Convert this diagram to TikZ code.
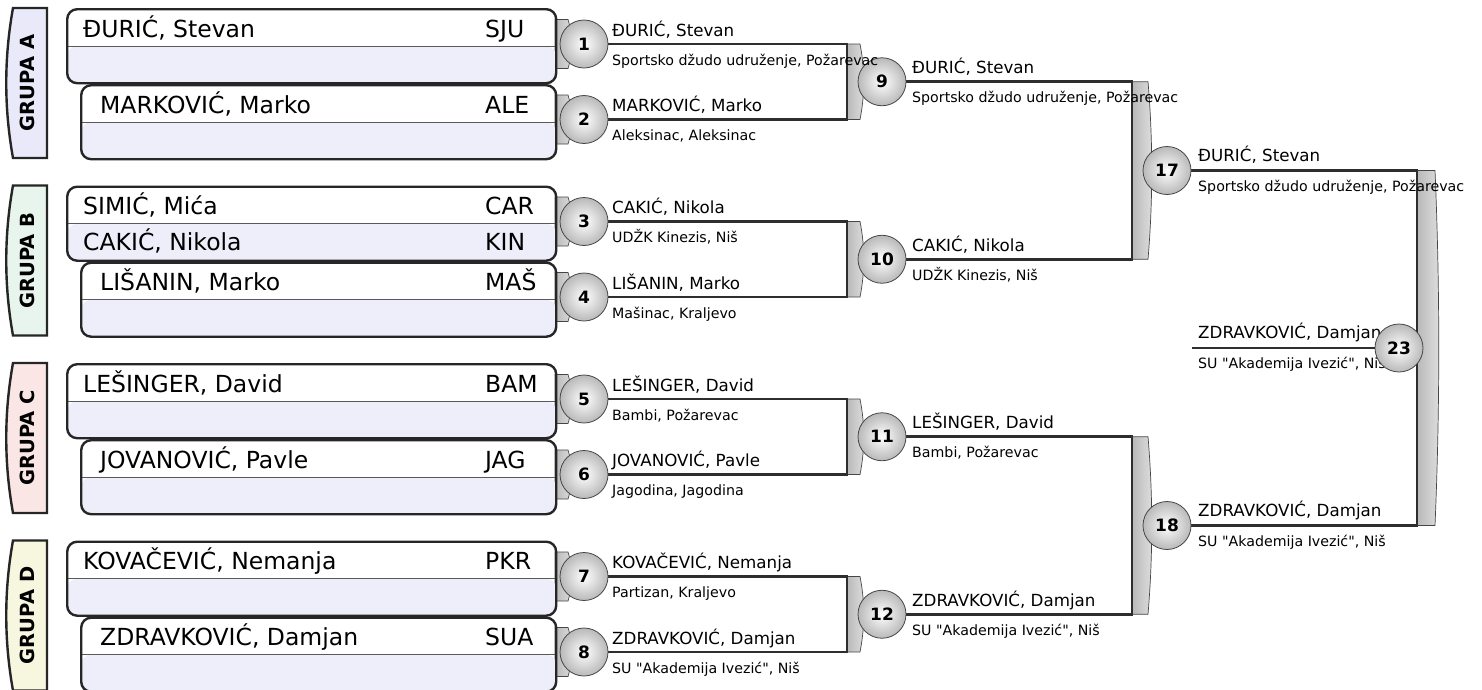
\documentclass[tikz,border=0pt]{standalone}
\usepackage{fontspec}
\setmainfont{DejaVu Sans}[Ligatures=TeXOff]
\definecolor{lav}{HTML}{EEEEFA}
\definecolor{grpA}{HTML}{E9E9F9}
\definecolor{grpB}{HTML}{E8F5EC}
\definecolor{grpC}{HTML}{FBE6E6}
\definecolor{grpD}{HTML}{F7F6DE}
\definecolor{lineC}{HTML}{2E2E2E}
\definecolor{boxline}{HTML}{262626}
\pgfdeclarelayer{bg}
\pgfdeclarelayer{lines}
\pgfdeclarelayer{top}
\pgfsetlayers{bg,lines,main,top}
\newcommand{\gblock}[4]{\path[conn] (#1,#2) -- ({(#1)+(#4)},#2) .. controls ({(#1)+(#4)+5},{(#2)+((#3)-(#2))/3}) and ({(#1)+(#4)+5},{(#2)+2*((#3)-(#2))/3}) .. ({(#1)+(#4)},#3) -- (#1,#3) -- cycle;}
\begin{document}
\begin{tikzpicture}[x=1pt,y=-1pt,
  player/.style={draw=boxline, line width=2.4pt, rounded corners=10pt, minimum height=74pt, inner sep=0pt, anchor=north west,
    path picture={\fill[lav] (path picture bounding box.west) rectangle (path picture bounding box.south east);
      \draw[line width=1pt, gray!70!black] (path picture bounding box.west) -- (path picture bounding box.east);}},
  pname/.style={anchor=base west, inner sep=0pt, font=\fontsize{23.5}{27}\selectfont},
  match/.style={circle, draw=gray!55!black, line width=0.8pt, inner color=white, outer color=gray!55, minimum size=48pt, inner sep=0pt, font=\bfseries\fontsize{17}{20}\selectfont},
  wname/.style={anchor=base west, inner sep=0pt, font=\fontsize{16.7}{19}\selectfont},
  wclub/.style={anchor=base west, inner sep=0pt, font=\fontsize{14.2}{16}\selectfont},
  bline/.style={draw=lineC, line width=2.6pt},
  conn/.style={draw=gray!55!black, line width=0.7pt, left color=gray!55, right color=gray!25},
  grp/.style={draw=black!85, line width=2.4pt},
  grplabel/.style={rotate=90, inner sep=0pt, font=\bfseries\fontsize{19.5}{22}\selectfont}
]
\begin{pgfonlayer}{bg}
\fill[white] (0,0) rectangle (1482,689);
\end{pgfonlayer}
\useasboundingbox (0,0) rectangle (1482,689);

% group tabs
\foreach \g/\c/\l in {8/grpA/A,185.5/grpB/B,363/grpC/C,540.5/grpD/D}{
  \draw[grp, fill=\c] (47,\g) -- (13,\g) .. controls (4,\g+50) and (4,\g+100) .. (13,\g+150) -- (47,\g+150) -- cycle;
  \node[grplabel] (grupa\l) at (27,\g+75) {GRUPA \l};
}

% small tabs between boxes and first-round matches, and bracket blocks
\begin{pgfonlayer}{bg}
\foreach \c in {44,119.5,221.5,297,399,474.5,576.5,652}{
  \gblock{555}{\c-24.5}{\c+24.5}{13}
}
\gblock{847}{44}{119.5}{13}
\gblock{847}{221.5}{297}{13}
\gblock{847}{399}{474.5}{13}
\gblock{847}{576.5}{652}{13}
\gblock{1132}{81.75}{259.25}{16}
\gblock{1132}{436.75}{614.25}{16}
\gblock{1417}{170.5}{525.5}{18}
\end{pgfonlayer}

% player boxes
\node[player, minimum width=489pt] (b1) at (66,8) {};
\node[player, minimum width=475pt] (b2) at (80,84) {};
\node[player, minimum width=489pt] (b3) at (66,185.5) {};
\node[player, minimum width=475pt] (b4) at (80,261.5) {};
\node[player, minimum width=489pt] (b5) at (66,363) {};
\node[player, minimum width=475pt] (b6) at (80,439) {};
\node[player, minimum width=489pt] (b7) at (66,540.5) {};
\node[player, minimum width=475pt] (b8) at (80,616.5) {};

\node[pname] (p1) at (83,37) {ĐURIĆ, Stevan};
\node[pname] (c1) at (485,37) {SJU};
\node[pname] (p2) at (100,113) {MARKOVIĆ, Marko};
\node[pname] (c2) at (485,113) {ALE};
\node[pname] (p3) at (83,214.5) {SIMIĆ, Mića};
\node[pname] (c3) at (485,214.5) {CAR};
\node[pname] (p3b) at (83,250.5) {CAKIĆ, Nikola};
\node[pname] (c3b) at (485,250.5) {KIN};
\node[pname] (p4) at (100,290.5) {LIŠANIN, Marko};
\node[pname] (c4) at (485,290.5) {MAŠ};
\node[pname] (p5) at (83,392) {LEŠINGER, David};
\node[pname] (c5) at (485,392) {BAM};
\node[pname] (p6) at (100,468) {JOVANOVIĆ, Pavle};
\node[pname] (c6) at (485,468) {JAG};
\node[pname] (p7) at (83,569.5) {KOVAČEVIĆ, Nemanja};
\node[pname] (c7) at (485,569.5) {PKR};
\node[pname] (p8) at (100,645.5) {ZDRAVKOVIĆ, Damjan};
\node[pname] (c8) at (485,645.5) {SUA};

% junction coordinates
\coordinate (k9) at (847,81.75);
\coordinate (k10) at (847,259.25);
\coordinate (k11) at (847,436.75);
\coordinate (k12) at (847,614.25);
\coordinate (k17) at (1132,170.5);
\coordinate (k18) at (1132,525.5);
\coordinate (k23) at (1417,348);
\coordinate (w23) at (1192,348);

% match circles
\node[match] (m1) at (584,44) {1};
\node[match] (m2) at (584,119.5) {2};
\node[match] (m3) at (584,221.5) {3};
\node[match] (m4) at (584,297) {4};
\node[match] (m5) at (584,399) {5};
\node[match] (m6) at (584,474.5) {6};
\node[match] (m7) at (584,576.5) {7};
\node[match] (m8) at (584,652) {8};
\node[match] (m9) at (882,81.75) {9};
\node[match] (m10) at (882,259.25) {10};
\node[match] (m11) at (882,436.75) {11};
\node[match] (m12) at (882,614.25) {12};
\node[match] (m17) at (1167,170.5) {17};
\node[match] (m18) at (1167,525.5) {18};
\begin{pgfonlayer}{top}
\node[match] (m23) at (1399,348) {23};
\end{pgfonlayer}

\begin{pgfonlayer}{lines}
\draw[bline] (m1.east) -- (m1.east -| k9) -- (m2.east -| k9) -- (m2.east);
\draw[bline] (m3.east) -- (m3.east -| k10) -- (m4.east -| k10) -- (m4.east);
\draw[bline] (m5.east) -- (m5.east -| k11) -- (m6.east -| k11) -- (m6.east);
\draw[bline] (m7.east) -- (m7.east -| k12) -- (m8.east -| k12) -- (m8.east);
\draw[bline] (m9.east) -- (m9.east -| k17) -- (m10.east -| k17) -- (m10.east);
\draw[bline] (m11.east) -- (m11.east -| k18) -- (m12.east -| k18) -- (m12.east);
\draw[bline] (m17.east) -- (m17.east -| k23) -- (m18.east -| k23) -- (m18.east);
\draw[bline] (m23.west) -- (w23);
\end{pgfonlayer}

% texts round 1
\node[wname] (n1) at (612,36) {ĐURIĆ, Stevan};
\node[wclub] (s1) at (612,65) {Sportsko džudo udruženje, Požarevac};
\node[wname] (n2) at (612,111.5) {MARKOVIĆ, Marko};
\node[wclub] (s2) at (612,140.5) {Aleksinac, Aleksinac};
\node[wname] (n3) at (612,213.5) {CAKIĆ, Nikola};
\node[wclub] (s3) at (612,242.5) {UDŽK Kinezis, Niš};
\node[wname] (n4) at (612,289) {LIŠANIN, Marko};
\node[wclub] (s4) at (612,318) {Mašinac, Kraljevo};
\node[wname] (n5) at (612,391) {LEŠINGER, David};
\node[wclub] (s5) at (612,420) {Bambi, Požarevac};
\node[wname] (n6) at (612,466.5) {JOVANOVIĆ, Pavle};
\node[wclub] (s6) at (612,495.5) {Jagodina, Jagodina};
\node[wname] (n7) at (612,568.5) {KOVAČEVIĆ, Nemanja};
\node[wclub] (s7) at (612,597.5) {Partizan, Kraljevo};
\node[wname] (n8) at (612,644) {ZDRAVKOVIĆ, Damjan};
\node[wclub] (s8) at (612,673) {SU "Akademija Ivezić", Niš};
% round 2
\node[wname] (n9) at (912,73.75) {ĐURIĆ, Stevan};
\node[wclub] (s9) at (912,102.75) {Sportsko džudo udruženje, Požarevac};
\node[wname] (n10) at (912,251.25) {CAKIĆ, Nikola};
\node[wclub] (s10) at (912,280.25) {UDŽK Kinezis, Niš};
\node[wname] (n11) at (912,428.75) {LEŠINGER, David};
\node[wclub] (s11) at (912,457.75) {Bambi, Požarevac};
\node[wname] (n12) at (912,606.25) {ZDRAVKOVIĆ, Damjan};
\node[wclub] (s12) at (912,635.25) {SU "Akademija Ivezić", Niš};
% round 3
\node[wname] (n17) at (1198,161.5) {ĐURIĆ, Stevan};
\node[wclub] (s17) at (1198,191.5) {Sportsko džudo udruženje, Požarevac};
\node[wname] (n18) at (1198,516.5) {ZDRAVKOVIĆ, Damjan};
\node[wclub] (s18) at (1198,546.5) {SU "Akademija Ivezić", Niš};
% final
\node[wname] (n23) at (1198,338) {ZDRAVKOVIĆ, Damjan};
\node[wclub] (s23) at (1198,368) {SU "Akademija Ivezić", Niš};
\end{tikzpicture}
\end{document}
